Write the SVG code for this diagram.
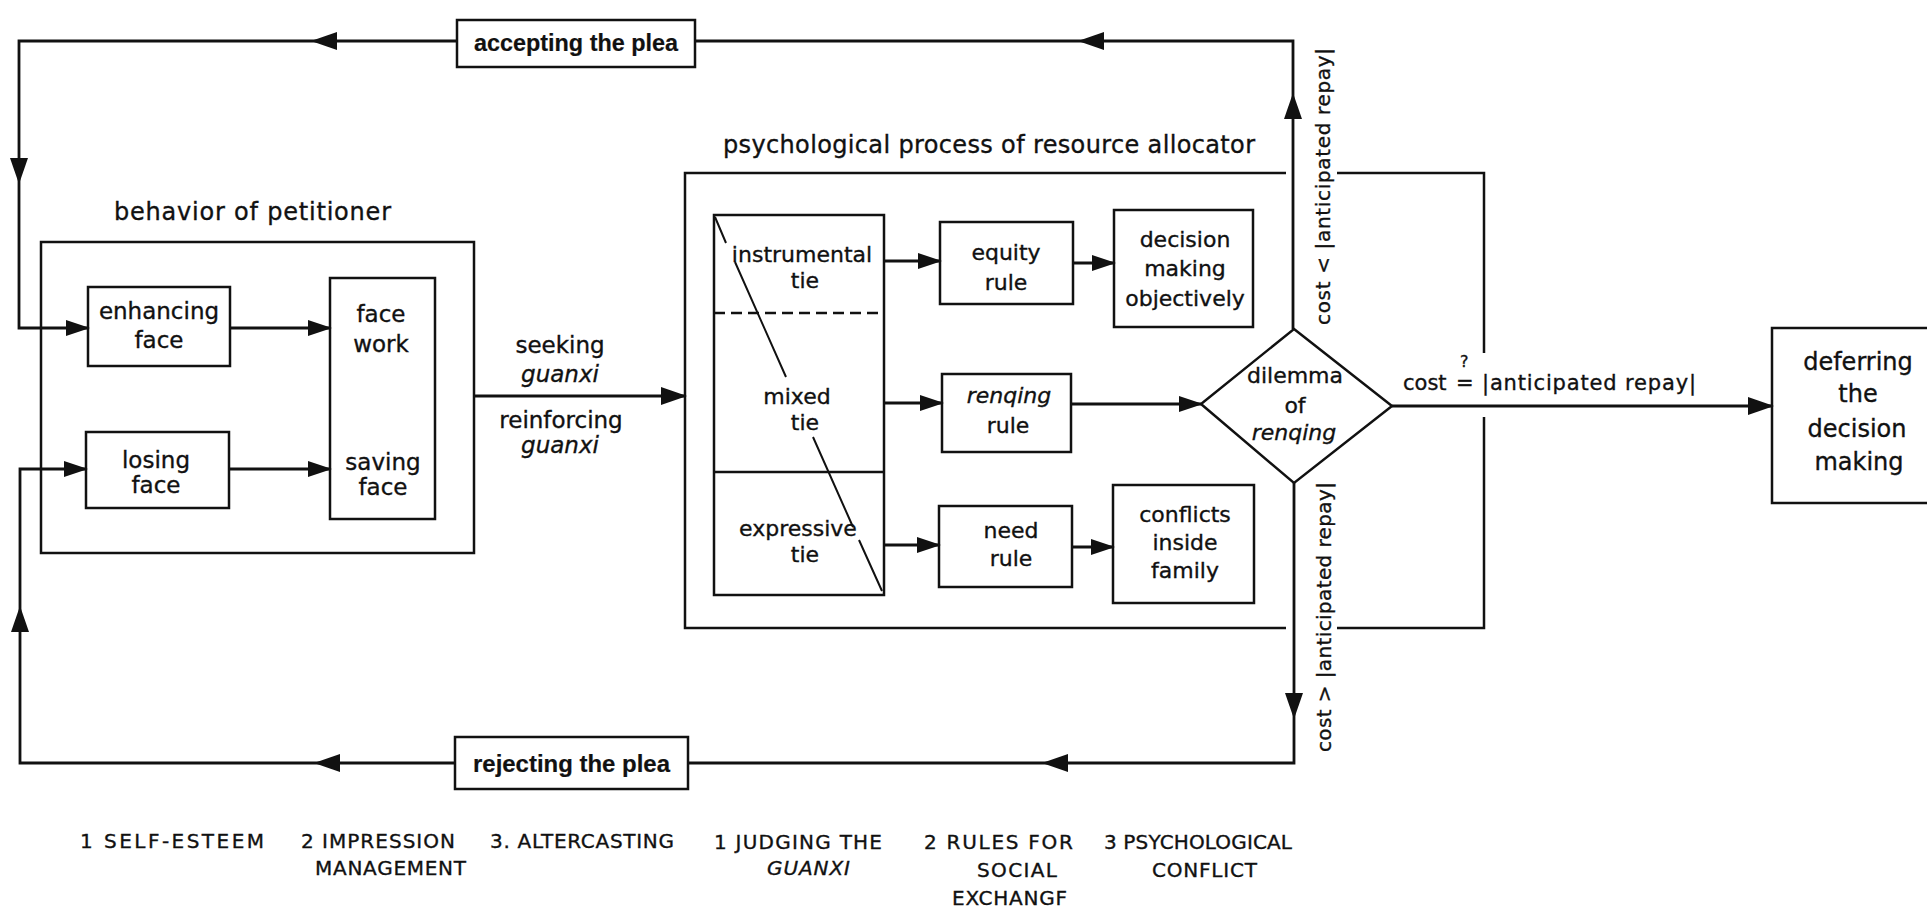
<svg xmlns="http://www.w3.org/2000/svg" width="1927" height="911" viewBox="0 0 1927 911">
<style>
.box{fill:none;stroke:#111;stroke-width:2.5}
.ln{fill:none;stroke:#111;stroke-width:2.8}
text{font-family:"DejaVu Sans","Liberation Sans",sans-serif;fill:#111;stroke:#111;stroke-width:0.35}
.t{font-size:22px;text-anchor:middle}
.t23{font-size:23px;text-anchor:middle}
.i{font-style:italic}
.b{font-family:"Liberation Sans",Arial,sans-serif;font-weight:bold;font-size:24px;stroke-width:0.2}
.cap{font-size:20px}
.v{font-size:20px}
.lab{font-size:24px}
</style>
<defs>
<marker id="ah" viewBox="0 0 26 18" refX="24" refY="9" markerWidth="26" markerHeight="18" markerUnits="userSpaceOnUse" orient="auto"><path d="M0,0 L26,9 L0,18 z" fill="#111"/></marker>
<marker id="as" viewBox="0 0 24 16" refX="22" refY="8" markerWidth="24" markerHeight="16" markerUnits="userSpaceOnUse" orient="auto"><path d="M0,0 L24,8 L0,16 z" fill="#111"/></marker>
</defs>

<g id="connectors">
<!-- top loop -->
<path class="ln" d="M1293,329 V95" marker-end="url(#ah)"/>
<path class="ln" d="M1293,95 V41 H1080" marker-end="url(#ah)"/>
<path class="ln" d="M1080,41 H695"/>
<path class="ln" d="M457,41 H313" marker-end="url(#ah)"/>
<path class="ln" d="M313,41 H19 V182" marker-end="url(#ah)"/>
<path class="ln" d="M19,182 V328 H88" marker-end="url(#as)"/>
<!-- bottom loop -->
<path class="ln" d="M1294,483 V717" marker-end="url(#ah)"/>
<path class="ln" d="M1294,717 V763 H1044" marker-end="url(#ah)"/>
<path class="ln" d="M1044,763 H688"/>
<path class="ln" d="M455,763 H316" marker-end="url(#ah)"/>
<path class="ln" d="M316,763 H20 V608" marker-end="url(#ah)"/>
<path class="ln" d="M20,608 V469 H86" marker-end="url(#as)"/>
<!-- inner -->
<path class="ln" d="M230,328 H330" marker-end="url(#as)"/>
<path class="ln" d="M229,469 H330" marker-end="url(#as)"/>
<path class="ln" d="M474,396 H685" marker-end="url(#ah)"/>
<path class="ln" d="M884,261 H940" marker-end="url(#as)"/>
<path class="ln" d="M1073,263 H1114" marker-end="url(#as)"/>
<path class="ln" d="M884,403 H942" marker-end="url(#as)"/>
<path class="ln" d="M1071,404 H1201" marker-end="url(#as)"/>
<path class="ln" d="M884,545 H939" marker-end="url(#as)"/>
<path class="ln" d="M1072,547 H1113" marker-end="url(#as)"/>
<path class="ln" d="M1392,406 H1772" marker-end="url(#ah)"/>
</g>

<g id="label-seeking">
<text class="t23" x="560" y="353">seeking</text>
<text class="t23 i" x="560" y="382">guanxi</text>
<text class="t23" x="561" y="428">reinforcing</text>
<text class="t23 i" x="560" y="453">guanxi</text>
</g>

<g id="label-cost-less">
<text class="v" transform="translate(1330,325) rotate(-90)" x="0" y="0" textLength="277" lengthAdjust="spacing">cost &lt; |anticipated repay|</text>
</g>
<g id="label-cost-greater">
<text class="v" transform="translate(1331,752) rotate(-90)" x="0" y="0" textLength="270" lengthAdjust="spacing">cost &gt; |anticipated repay|</text>
</g>
<g id="label-cost-equal">
<text style="font-size:21px" y="390"><tspan x="1403">cost</tspan><tspan x="1456">=</tspan><tspan x="1482" textLength="214" lengthAdjust="spacing">|anticipated repay|</tspan></text>
<text style="font-size:16px" x="1460" y="367">?</text>
</g>

<g id="accepting">
<rect class="box" x="457" y="20" width="238" height="47"/>
<text class="b" x="474" y="51" textLength="204" lengthAdjust="spacingAndGlyphs">accepting the plea</text>
</g>
<g id="rejecting">
<rect class="box" x="455" y="737" width="233" height="52"/>
<text class="b" x="473" y="772" textLength="197" lengthAdjust="spacingAndGlyphs">rejecting the plea</text>
</g>

<g id="behavior">
<rect class="box" x="41" y="242" width="433" height="311"/>
<text class="lab" x="114" y="220" textLength="277" lengthAdjust="spacing">behavior of petitioner</text>
</g>
<g id="enhancing">
<rect class="box" x="88" y="287" width="142" height="79"/>
<text class="t23" x="159" y="319">enhancing</text>
<text class="t23" x="159" y="348">face</text>
</g>
<g id="losing">
<rect class="box" x="86" y="432" width="143" height="76"/>
<text class="t23" x="156" y="468">losing</text>
<text class="t23" x="156" y="493">face</text>
</g>
<g id="facework">
<rect class="box" x="330" y="278" width="105" height="241"/>
<text class="t23" x="381" y="322">face</text>
<text class="t23" x="381" y="352">work</text>
<text class="t23" x="383" y="470">saving</text>
<text class="t23" x="383" y="495">face</text>
</g>

<g id="psych">
<path class="box" d="M1286,173 H685 V628 H1286 M1337,628 H1484 V417 M1484,353 V173 H1337"/>
<text class="lab" x="723" y="153" textLength="532" lengthAdjust="spacing">psychological process of resource allocator</text>
</g>
<g id="ties">
<rect class="box" x="714" y="215" width="170" height="380"/>
<line class="box" x1="714" y1="313" x2="884" y2="313" stroke-dasharray="11,6"/>
<line class="box" x1="714" y1="472" x2="884" y2="472"/>
<path class="box" style="stroke-width:2" d="M715,217 L726,243 M735,262 L786,377 M813,437 L853,527 M859,540 L882,591"/>
<text class="t" x="802" y="262">instrumental</text>
<text class="t" x="805" y="288">tie</text>
<text class="t" x="797" y="404">mixed</text>
<text class="t" x="805" y="430">tie</text>
<text class="t" x="798" y="536">expressive</text>
<text class="t" x="805" y="562">tie</text>
</g>
<g id="equity">
<rect class="box" x="940" y="222" width="133" height="82"/>
<text class="t" x="1006" y="260">equity</text>
<text class="t" x="1006" y="290">rule</text>
</g>
<g id="decision">
<rect class="box" x="1114" y="210" width="139" height="117"/>
<text class="t" x="1185" y="247">decision</text>
<text class="t" x="1185" y="276">making</text>
<text class="t" x="1185" y="306">objectively</text>
</g>
<g id="renqing">
<rect class="box" x="942" y="374" width="129" height="78"/>
<text class="t i" x="1009" y="403">renqing</text>
<text class="t" x="1008" y="433">rule</text>
</g>
<g id="need">
<rect class="box" x="939" y="506" width="133" height="81"/>
<text class="t" x="1011" y="538">need</text>
<text class="t" x="1011" y="566">rule</text>
</g>
<g id="conflicts">
<rect class="box" x="1113" y="485" width="141" height="118"/>
<text class="t" x="1185" y="522">conflicts</text>
<text class="t" x="1185" y="550">inside</text>
<text class="t" x="1185" y="578">family</text>
</g>
<g id="dilemma">
<polygon class="box" points="1294,329 1392,406 1294,483 1201,404"/>
<text class="t" x="1295" y="383">dilemma</text>
<text class="t" x="1295" y="413">of</text>
<text class="t i" x="1294" y="440">renqing</text>
</g>
<g id="deferring">
<path class="box" d="M1932,328 H1772 V503 H1932"/>
<text class="t23" style="font-size:24px" x="1858" y="370">deferring</text>
<text class="t23" style="font-size:24px" x="1858" y="402">the</text>
<text class="t23" style="font-size:24px" x="1857" y="437">decision</text>
<text class="t23" style="font-size:24px" x="1859" y="470">making</text>
</g>

<g id="captions">
<text class="cap" x="80" y="848" textLength="184" lengthAdjust="spacing">1 SELF-ESTEEM</text>
<text class="cap" x="301" y="848" textLength="154" lengthAdjust="spacing">2 IMPRESSION</text>
<text class="cap" x="315" y="875" textLength="151" lengthAdjust="spacing">MANAGEMENT</text>
<text class="cap" x="490" y="848" textLength="184" lengthAdjust="spacing">3. ALTERCASTING</text>
<text class="cap" x="714" y="849" textLength="168" lengthAdjust="spacing">1 JUDGING THE</text>
<text class="cap i" x="767" y="875" textLength="83" lengthAdjust="spacing">GUANXI</text>
<text class="cap" x="924" y="849" textLength="149" lengthAdjust="spacing">2 RULES FOR</text>
<text class="cap" x="977" y="877" textLength="80" lengthAdjust="spacing">SOCIAL</text>
<text class="cap" x="952" y="905" textLength="115" lengthAdjust="spacing">EXCHANGF</text>
<text class="cap" x="1104" y="849" textLength="188" lengthAdjust="spacing">3 PSYCHOLOGICAL</text>
<text class="cap" x="1152" y="877" textLength="105" lengthAdjust="spacing">CONFLICT</text>
</g>
</svg>
